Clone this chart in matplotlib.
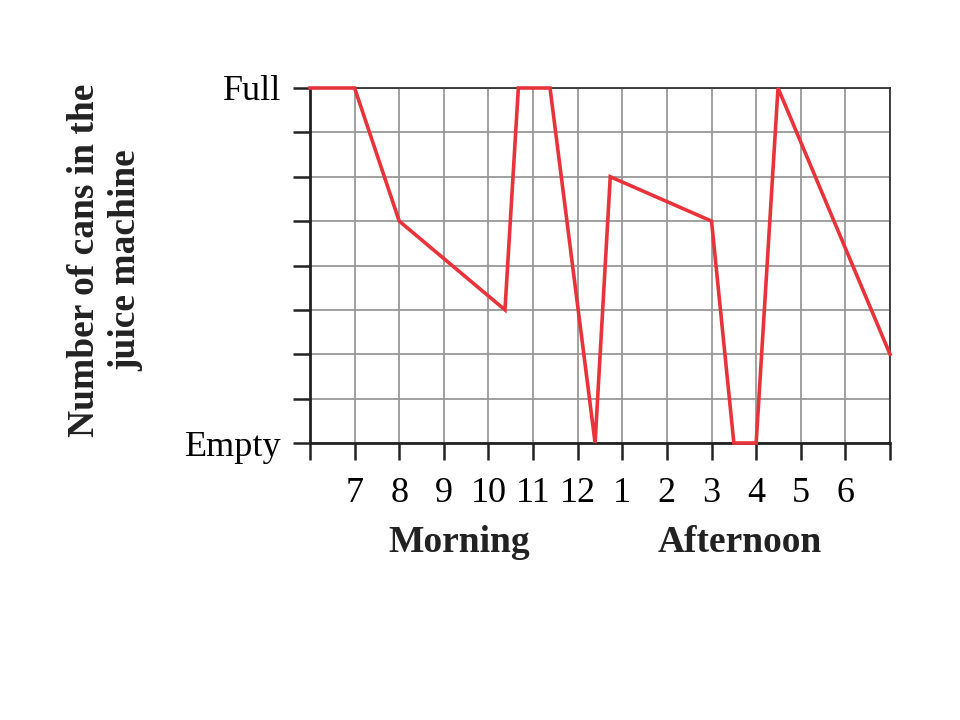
import matplotlib
matplotlib.use('Agg')
import matplotlib.pyplot as plt

# time of day (24 h clock) and stock level (0 = empty, 8 = full)
hours = [6, 7, 8, 10.37, 10.67, 11.38, 12.39, 12.73, 15.0, 15.5, 16.0, 16.49, 19]
levels = [8, 8, 5, 3, 8, 8, 0, 6, 5, 0, 0, 8, 2]

hour_ticks = list(range(6, 20))
hour_labels = ['', '7', '8', '9', '10', '11', '12', '1', '2', '3', '4', '5', '6', '']
level_ticks = list(range(0, 9))
level_labels = ['Empty', '', '', '', '', '', '', '', 'Full']

plt.rcParams['font.family'] = ['Liberation Serif', 'DejaVu Serif']

fig = plt.figure(figsize=(9.6, 7.2), dpi=100)
ax = fig.add_axes([310 / 960, 1 - 443 / 720, 580 / 960, 355 / 720])

ax.plot(hours, levels, color='#E8333A', linewidth=2.6, solid_joinstyle='miter', zorder=3,
        clip_on=False)

ax.set_xlim(6, 19)
ax.set_ylim(0, 8)
ax.set_xticks(hour_ticks)
ax.set_xticklabels(hour_labels, fontsize=26)
ax.set_yticks(level_ticks)
ax.set_yticklabels(level_labels, fontsize=26)
ax.tick_params(axis='both', length=12.5, width=1.8, color='#222222', pad=8)
ax.tick_params(axis='x', pad=12)
ax.grid(True, color='#999999', linewidth=1.3)
ax.set_axisbelow(True)

for side in ['left', 'bottom']:
    ax.spines[side].set_linewidth(2.0)
    ax.spines[side].set_color('#222222')
for side in ['top', 'right']:
    ax.spines[side].set_linewidth(1.3)
    ax.spines[side].set_color('#333333')

fig.text(459 / 960, 1 - 543 / 720, 'Morning', ha='center', va='center',
         fontsize=27, fontweight='bold', color='#222222')
fig.text(740 / 960, 1 - 543 / 720, 'Afternoon', ha='center', va='center',
         fontsize=27, fontweight='bold', color='#222222')
fig.text(105 / 960, 1 - 260 / 720, 'Number of cans in the\njuice machine', ha='center',
         va='center', rotation=90, fontsize=27, fontweight='bold', color='#222222',
         linespacing=1.25)

fig.savefig('out.png', dpi=100, facecolor='white')
